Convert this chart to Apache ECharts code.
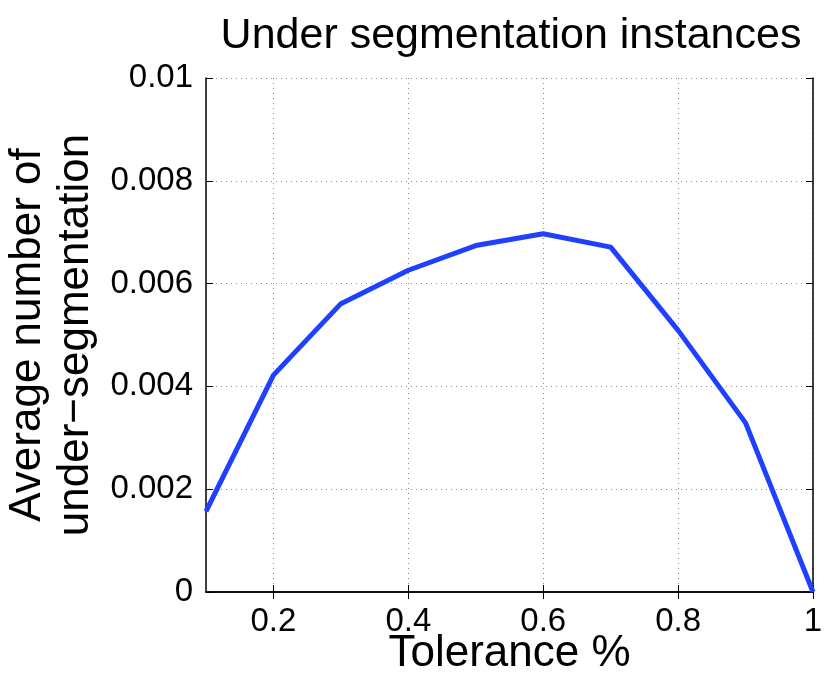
<!DOCTYPE html>
<html>
<head>
<meta charset="utf-8">
<script src="https://cdn.jsdelivr.net/npm/echarts@6/dist/echarts.min.js"></script>
<style>html,body{margin:0;padding:0;background:#fff;width:100%;height:100%;overflow:hidden}#c{width:830px;height:681px}</style>
</head>
<body>
<div id="c"></div>
<script>
var tolerance = [0.1, 0.2, 0.3, 0.4, 0.5, 0.6, 0.7, 0.8, 0.9, 1.0];
var underSeg = [0.00157, 0.00422, 0.00561, 0.00626, 0.00674, 0.00697, 0.00671, 0.00509, 0.00329, 0.0];
var xTicks = [0.2, 0.4, 0.6, 0.8, 1];
var yTicks = [0, 0.002, 0.004, 0.006, 0.008, 0.01];

var font = 'Liberation Sans, Arial, Helvetica, sans-serif';
var chart = echarts.init(document.getElementById('c'), null, {renderer: 'canvas'});
var gridDot = {show: true, lineStyle: {color: '#8c8c8c', type: [1, 4], width: 1}};
chart.setOption({
  animation: false,
  title: {
    text: 'Under segmentation instances',
    left: 506, top: 10, textAlign: 'center',
    textStyle: {fontFamily: font, fontSize: 43, fontWeight: 'normal', color: '#000'}
  },
  grid: {left: 206, right: 17, top: 78, bottom: 89, containLabel: false, outerBoundsMode: 'none'},
  xAxis: [{
    type: 'value', min: 0.1, max: 1, position: 'bottom',
    name: 'Tolerance %', nameLocation: 'middle', nameGap: 40, nameMoveOverlap: false,
    nameTextStyle: {fontFamily: font, fontSize: 44, color: '#000'},
    axisLine: {show: true, onZero: false, lineStyle: {color: '#000', width: 1.5}},
    axisTick: {show: true, inside: true, length: 7, customValues: xTicks, lineStyle: {color: '#000'}},
    axisLabel: {customValues: xTicks, margin: 13, fontFamily: font, fontSize: 33, color: '#000',
      formatter: function (v) { return String(+v.toFixed(2)); }},
    splitLine: gridDot
  }, {
    type: 'value', min: 0.1, max: 1, position: 'top',
    axisLine: {show: true, lineStyle: {color: '#000', width: 1.5}},
    axisTick: {show: true, inside: true, length: 7, customValues: xTicks, lineStyle: {color: '#000'}},
    axisLabel: {show: false}, splitLine: {show: false}
  }],
  yAxis: [{
    type: 'value', min: 0, max: 0.01, interval: 0.002, position: 'left',
    name: 'Average number of\nunder\u2212segmentation', nameLocation: 'middle', nameGap: 106, nameRotate: 90,
    nameTextStyle: {fontFamily: font, fontSize: 44, color: '#000', lineHeight: 48},
    axisLine: {show: true, lineStyle: {color: '#000', width: 1.5}},
    axisTick: {show: true, inside: true, length: 7, lineStyle: {color: '#000'}},
    axisLabel: {margin: 13, fontFamily: font, fontSize: 33, color: '#000',
      formatter: function (v) { return String(+v.toFixed(3)); }},
    splitLine: gridDot
  }, {
    type: 'value', min: 0, max: 0.01, interval: 0.002, position: 'right',
    axisLine: {show: true, lineStyle: {color: '#000', width: 1.5}},
    axisTick: {show: true, inside: true, length: 7, lineStyle: {color: '#000'}},
    axisLabel: {show: false}, splitLine: {show: false}
  }],
  series: [{
    type: 'line',
    data: tolerance.map(function (t, i) { return [t, underSeg[i]]; }),
    showSymbol: false, symbol: 'none',
    lineStyle: {color: '#2040ff', width: 5},
    clip: true
  }]
});
</script>
</body>
</html>
